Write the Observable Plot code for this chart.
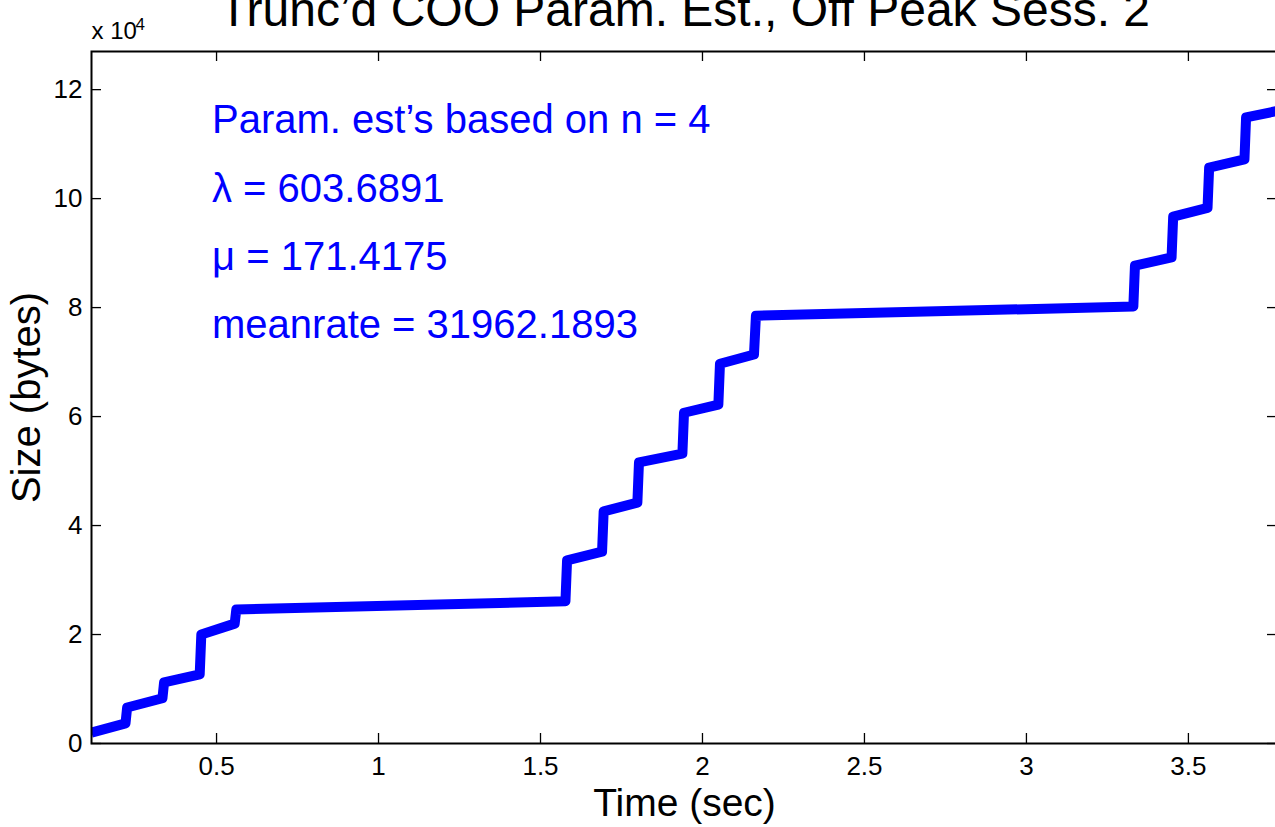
<!DOCTYPE html>
<html>
<head>
<meta charset="utf-8">
<script src="https://cdn.jsdelivr.net/npm/d3@7"></script>
<script src="https://cdn.jsdelivr.net/npm/@observablehq/plot@0.6"></script>
<style>
  html, body { margin: 0; padding: 0; background: #fff; }
  #chart { width: 1275px; height: 827px; overflow: hidden; }
</style>
</head>
<body>
<div id="chart"></div>
<script>
// ---- data ----
const timeSec = [0.114, 0.219, 0.224, 0.333, 0.338, 0.448, 0.453, 0.556, 0.561, 1.577, 1.582, 1.690, 1.695, 1.799, 1.804, 1.938, 1.943, 2.049, 2.054, 2.159, 2.165, 3.330, 3.335, 3.448, 3.453, 3.559, 3.564, 3.673, 3.678, 3.775];
const sizeBytes = [2000, 3700, 6600, 8300, 11200, 12700, 20000, 22000, 24600, 26100, 33600, 35200, 42600, 44200, 51600, 53200, 60700, 62200, 69700, 71400, 78500, 80200, 87700, 89200, 96700, 98300, 105700, 107200, 114900, 116100];

const xTicks = [0.5, 1, 1.5, 2, 2.5, 3, 3.5];
const yTicks = [0, 20000, 40000, 60000, 80000, 100000, 120000];
const xDomain = [0.114, 3.775];
const yDomain = [0, 127000];

const titleText = "Trunc\u2019d COO Param. Est., Off Peak Sess. 2";
const xLabelText = "Time (sec)";
const yLabelText = "Size (bytes)";
const annoLabels = ["Param. est\u2019s based on n = 4", "\u03bb = 603.6891", "\u03bc = 171.4175", "meanrate = 31962.1893"];
const annoX = [0.486, 0.486, 0.486, 0.486];
const annoY = [112000, 99400, 86900, 74400];

// ---- build ----
const series = timeSec.map((t, i) => ({t, v: sizeBytes[i]}));
const annos = annoLabels.map((s, i) => ({s, x: annoX[i], y: annoY[i]}));

const W = 1275, H = 827;
const mL = 91, mT = 51, mB = 84, mR = -2;
const innerH = H - mT - mB;
const innerW = W - mL - mR;
const tickLen = 10;
const blue = "#0000ff";

const chart = Plot.plot({
  width: W,
  height: H,
  marginLeft: mL,
  marginTop: mT,
  marginBottom: mB,
  marginRight: mR,
  style: {fontFamily: "'Liberation Sans', Arial, Helvetica, sans-serif", background: "#fff", color: "#000", overflow: "visible"},
  x: {domain: xDomain},
  y: {domain: yDomain},
  marks: [
    // inward ticks on all four sides
    Plot.ruleX(xTicks, {x: d => d, insetTop: innerH - tickLen, stroke: "#000", strokeWidth: 1.3}),
    Plot.ruleX(xTicks, {x: d => d, insetBottom: innerH - tickLen, stroke: "#000", strokeWidth: 1.3}),
    Plot.ruleY(yTicks, {y: d => d, insetRight: innerW - tickLen, stroke: "#000", strokeWidth: 1.3}),
    Plot.ruleY(yTicks, {y: d => d, insetLeft: innerW - tickLen, stroke: "#000", strokeWidth: 1.3}),
    // tick labels
    Plot.axisX(xTicks, {anchor: "bottom", tickSize: 0, tickPadding: 13, fontSize: 26, label: null, tickFormat: d => String(d)}),
    Plot.axisY(yTicks, {anchor: "left", tickSize: 0, tickPadding: 9, fontSize: 26, label: null, tickFormat: d => String(d / 1e4)}),
    // the data line
    Plot.line(series, {x: "t", y: "v", stroke: blue, strokeWidth: 10, strokeLinejoin: "round", strokeLinecap: "butt", clip: true}),
    // annotations
    Plot.text(annos, {x: "x", y: "y", text: "s", fill: blue, fontSize: 40, textAnchor: "start", lineAnchor: "bottom"}),
    // frame
    Plot.frame({stroke: "#000", strokeWidth: 2}),
    // exponent label
    Plot.text(["x 10"], {text: d => d, frameAnchor: "top-left", textAnchor: "start", lineAnchor: "bottom", dy: -13, fontSize: 24, fill: "#000"}),
    Plot.text(["4"], {text: d => d, frameAnchor: "top-left", textAnchor: "start", lineAnchor: "bottom", dx: 44, dy: -22, fontSize: 17, fill: "#000"}),
    // title
    Plot.text([titleText], {text: d => d, frameAnchor: "top", textAnchor: "middle", lineAnchor: "bottom", dy: -26, fontSize: 48, fill: "#000"}),
    // axis labels
    Plot.text([xLabelText], {text: d => d, frameAnchor: "bottom", textAnchor: "middle", lineAnchor: "bottom", dy: 72, fontSize: 39, fill: "#000"}),
    Plot.text([yLabelText], {text: d => d, frameAnchor: "left", textAnchor: "middle", lineAnchor: "middle", rotate: -90, dx: -64, fontSize: 40, fill: "#000"})
  ]
});

document.getElementById("chart").appendChild(chart);
</script>
</body>
</html>
